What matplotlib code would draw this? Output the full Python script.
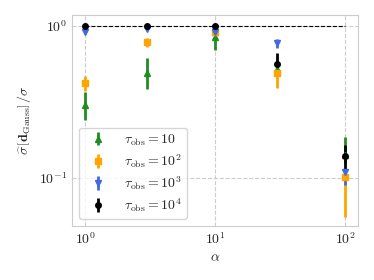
import matplotlib
matplotlib.use("Agg")
import matplotlib.pyplot as plt
import numpy as np
import seaborn as sns

sns.set_style("whitegrid", {"grid.linestyle": "--"})
plt.rcParams["font.family"] = "serif"
plt.rcParams["font.serif"] = ["cmr10", "DejaVu Serif"]
plt.rcParams["mathtext.fontset"] = "cm"
plt.rcParams["axes.formatter.use_mathtext"] = True
plt.rcParams["font.size"] = 10

# data
alpha = [1, 3, 10, 30, 100]
tau_labels = [r"$\tau_{\rm obs} = 10$", r"$\tau_{\rm obs} = 10^2$",
              r"$\tau_{\rm obs} = 10^3$", r"$\tau_{\rm obs} = 10^4$"]

val_10 = [0.301, 0.491, 0.839, 0.517, 0.142]
lo_10 = [0.240, 0.382, 0.692, 0.500, 0.125]
hi_10 = [0.368, 0.610, 0.891, 0.535, 0.186]

val_100 = [0.422, 0.785, 0.913, 0.486, 0.101]
lo_100 = [0.373, 0.724, 0.869, 0.388, 0.0554]
hi_100 = [0.467, 0.830, 0.951, 0.511, 0.104]

val_1000 = [0.905, 0.947, 0.913, 0.766, 0.109]
lo_1000 = [0.890, 0.935, 0.900, 0.713, 0.0895]
hi_1000 = [0.920, 0.960, 0.925, 0.818, 0.114]

val_10000 = [1.0, 1.0, 1.0, 0.560, 0.139]
lo_10000 = [0.99, 0.99, 0.99, 0.527, 0.112]
hi_10000 = [1.01, 1.01, 1.01, 0.658, 0.164]

series = [(val_10, lo_10, hi_10, "forestgreen", "^"),
          (val_100, lo_100, hi_100, "orange", "s"),
          (val_1000, lo_1000, hi_1000, "royalblue", "v"),
          (val_10000, lo_10000, hi_10000, "black", "o")]

fig = plt.figure(figsize=(3.74, 2.8), dpi=100)
ax = fig.add_axes([0.1925, 0.193, 0.765, 0.753])

ax.plot([alpha[0], alpha[-1]], [1, 1], "k--", lw=0.8, zorder=1)

for (v, lo, hi, c, m), lab in zip(series, tau_labels):
    v = np.array(v)
    yerr = [v - np.array(lo), np.array(hi) - v]
    ax.errorbar(alpha, v, yerr=yerr, fmt=m, color=c, ms=4, elinewidth=2,
                capsize=0, label=lab, zorder=3)

ax.set_xscale("log")
ax.set_yscale("log")
ax.set_xlim(10 ** -0.1, 10 ** 2.1)
ax.set_ylim(10 ** -1.318, 10 ** 0.07)
ax.grid(True, which="major", linestyle="--")
ax.grid(False, which="minor")
ax.tick_params(which="both", length=0)

ax.set_xlabel(r"$\alpha$")
ax.set_ylabel(r"$\widehat{\sigma}\,\left[\mathbf{d}_{\rm Gauss}\right]\,/\sigma$")
ax.legend(loc="lower left", frameon=True, labelspacing=0.3, borderpad=0.35,
          handletextpad=0.9)

plt.savefig("out.png", dpi=100)
